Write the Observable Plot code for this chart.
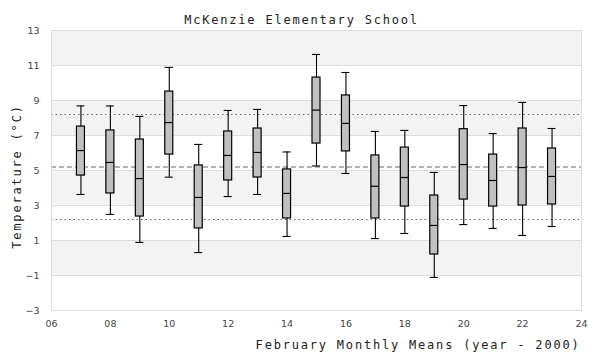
<!DOCTYPE html>
<html>
<head>
<meta charset="utf-8">
<script src="https://cdn.jsdelivr.net/npm/d3@7"></script>
<script src="https://cdn.jsdelivr.net/npm/@observablehq/plot@0.6"></script>
<style>
  html, body { margin: 0; padding: 0; background: #fff; }
  #chart { width: 600px; height: 360px; }
</style>
</head>
<body>
<div id="chart"></div>
<script>
// ---- data ----
const years        = [7, 8, 9, 10, 11, 12, 13, 14, 15, 16, 17, 18, 19, 20, 21, 22, 23];
const whiskerLow   = [3.63, 2.49, 0.89, 4.62, 0.31, 3.51, 3.63, 1.23, 5.26, 4.83, 1.11, 1.40, -1.11, 1.91, 1.69, 1.29, 1.80];
const q1           = [4.71, 3.69, 2.37, 5.91, 1.69, 4.43, 4.60, 2.26, 6.54, 6.09, 2.26, 2.94, 0.20, 3.34, 2.94, 3.00, 3.06];
const median       = [6.14, 5.46, 4.54, 7.74, 3.46, 5.86, 6.03, 3.69, 8.45, 7.69, 4.10, 4.60, 1.86, 5.34, 4.43, 5.17, 4.66];
const q3           = [7.51, 7.29, 6.77, 9.51, 5.29, 7.23, 7.40, 5.06, 10.31, 9.29, 5.86, 6.31, 3.57, 7.36, 5.91, 7.40, 6.26];
const whiskerHigh  = [8.69, 8.69, 8.09, 10.89, 6.49, 8.43, 8.49, 6.06, 11.63, 10.60, 7.23, 7.29, 4.89, 8.71, 7.11, 8.89, 7.40];

const meanLine     = [5.2];
const sdLines      = [8.2, 2.2];
const bandLow      = [-1, 3, 7, 11];
const bandHigh     = [1, 5, 9, 13];
const xTicks       = [6, 8, 10, 12, 14, 16, 18, 20, 22, 24];
const yTicks       = [-3, -1, 1, 3, 5, 7, 9, 11, 13];

const titleText  = "McKenzie Elementary School";
const xLabelText = "February Monthly Means (year - 2000)";
const yLabelText = "Temperature (°C)";

// ---- tables built from the arrays ----
const boxes = years.map((year, i) => ({
  year, lo: whiskerLow[i], q1: q1[i], med: median[i], q3: q3[i], hi: whiskerHigh[i]
}));
const bands = bandLow.map((y1, i) => ({y1, y2: bandHigh[i]}));
const hw = 0.136; // half box width in x units

const mono = "'DejaVu Sans Mono', monospace";

const chart = Plot.plot({
  width: 600,
  height: 360,
  marginTop: 30,
  marginBottom: 50,
  marginLeft: 51,
  marginRight: 19,
  style: {fontFamily: "'DejaVu Sans', sans-serif", fontSize: "9.5px", color: "#444", background: "#fff"},
  x: {domain: [6, 24]},
  y: {domain: [-3, 13]},
  marks: [
    Plot.rect(bands, {y1: "y1", y2: "y2", fill: "#f3f3f3"}),
    Plot.gridY(yTicks, {stroke: "#dddddd", strokeOpacity: 1}),
    Plot.ruleY(sdLines, {stroke: "#666", strokeWidth: 1, strokeDasharray: "1.5,3"}),
    Plot.ruleY(meanLine, {stroke: "#666", strokeWidth: 1, strokeDasharray: "5,3"}),
    Plot.axisX({ticks: xTicks, tickSize: 0, tickPadding: 10, tickFormat: d3.format("02d"), label: null}),
    Plot.axisY({ticks: yTicks, tickSize: 0, tickPadding: 12, label: null}),
    Plot.ruleX(boxes, {x: "year", y1: "lo", y2: "q1", stroke: "#000", strokeWidth: 1.1}),
    Plot.ruleX(boxes, {x: "year", y1: "q3", y2: "hi", stroke: "#000", strokeWidth: 1.1}),
    Plot.ruleY(boxes, {y: "lo", x1: d => d.year - hw, x2: d => d.year + hw, stroke: "#000", strokeWidth: 1.1}),
    Plot.ruleY(boxes, {y: "hi", x1: d => d.year - hw, x2: d => d.year + hw, stroke: "#000", strokeWidth: 1.1}),
    Plot.rect(boxes, {x1: d => d.year - hw, x2: d => d.year + hw, y1: "q1", y2: "q3", fill: "#c0c0c0", stroke: "#000", strokeWidth: 1.2}),
    Plot.ruleY(boxes, {y: "med", x1: d => d.year - hw, x2: d => d.year + hw, stroke: "#000", strokeWidth: 1.2}),
    Plot.frame({stroke: "#dddddd"}),
    Plot.text([titleText], {frameAnchor: "top", dx: -15, dy: -15, fontFamily: mono, fontSize: 12, fill: "#222"}),
    Plot.text([xLabelText], {frameAnchor: "bottom-right", textAnchor: "end", dx: -1, dy: 38, fontFamily: mono, fontSize: 12, fill: "#222"}),
    Plot.text([yLabelText], {frameAnchor: "left", textAnchor: "middle", rotate: -90, dx: -34, dy: 6, fontFamily: mono, fontSize: 12, fill: "#222"})
  ]
});

// letter spacing for the monospace titles
d3.select(chart).selectAll("text").filter(function() {
  return (this.getAttribute("font-family") || "").includes("Mono") ||
         (this.parentNode && (this.parentNode.getAttribute("font-family") || "").includes("Mono"));
}).style("letter-spacing", "1.8px");

document.getElementById("chart").appendChild(chart);
</script>
</body>
</html>
